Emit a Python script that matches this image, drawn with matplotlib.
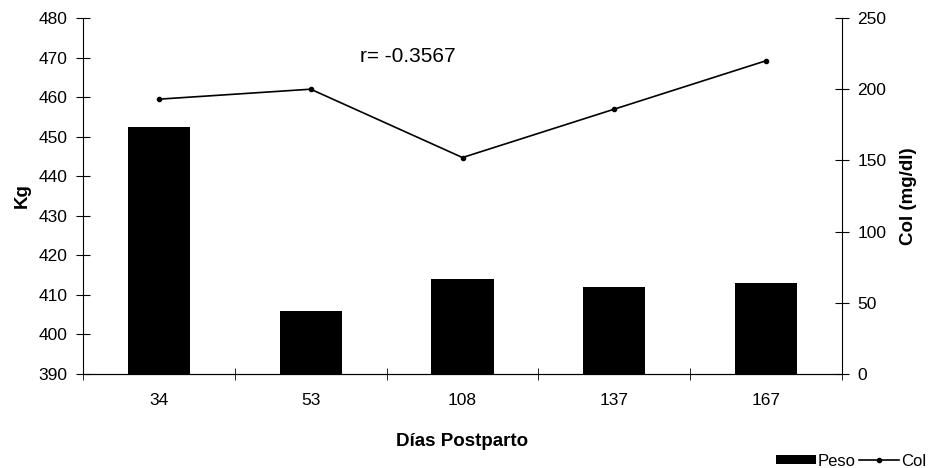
import matplotlib
matplotlib.use("Agg")
import matplotlib.pyplot as plt
import numpy as np

plt.rcParams['font.family'] = ['Liberation Sans', 'DejaVu Sans']

dias = ['34', '53', '108', '137', '167']
peso = [452.5, 406.0, 414.0, 412.0, 413.0]
col = [193, 200, 152, 186, 220]

x = np.arange(len(dias))

fig = plt.figure(figsize=(9.3, 4.68), dpi=100)
ax = fig.add_axes([83 / 930, 1 - 374 / 468, (842 - 83) / 930, (374 - 18) / 468])

ax.bar(x, peso, width=0.41, bottom=0, color='black', label='Peso')
ax.set_ylim(390, 480)
ax.set_xlim(-0.5, 4.5)
ax.set_yticks(np.arange(390, 481, 10))
ax.set_xticks(x)
ax.set_xticklabels(dias)
ax.set_xticks(np.arange(-0.5, 4.6, 1), minor=True)
ax.tick_params(axis='x', which='major', length=0, pad=14, labelsize=12.5)
ax.tick_params(axis='x', which='minor', direction='inout', length=8)
ax.tick_params(axis='y', direction='inout', length=10, labelsize=12.5, pad=6)
ax.set_ylabel('Kg', fontsize=13.5, fontweight='bold', labelpad=6)
ax.set_xlabel('Días Postparto', fontsize=13.5, fontweight='bold', labelpad=18)
ax.spines['top'].set_visible(False)
ax.spines['right'].set_visible(False)

ax2 = ax.twinx()
ax2.plot(x, col, color='black', lw=1.2, marker='o', ms=3, label='Col')
ax2.set_ylim(0, 250)
ax2.set_yticks(np.arange(0, 251, 50))
ax2.tick_params(axis='y', direction='inout', length=10, labelsize=12.5, pad=6)
ax2.set_ylabel('Col (mg/dl)', fontsize=13.5, fontweight='bold', labelpad=10)
ax2.spines['top'].set_visible(False)
ax2.spines['left'].set_visible(False)

ax.text(1.64, 470.3, 'r= -0.3567', ha='center', va='center', fontsize=15)

h1, l1 = ax.get_legend_handles_labels()
h2, l2 = ax2.get_legend_handles_labels()
fig.legend(h1 + h2, l1 + l2, loc='center right',
           bbox_to_anchor=(926 / 930, 1 - 461 / 468),
           ncol=2, frameon=False, fontsize=12, handlelength=2.4,
           handleheight=0.5, handletextpad=0.1, columnspacing=0.2,
           borderpad=0, borderaxespad=0)

fig.savefig('out.png', dpi=100)
